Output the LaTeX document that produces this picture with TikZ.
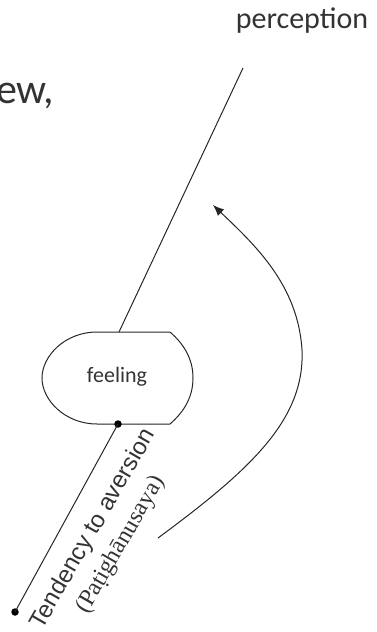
\documentclass[tikz,border=0pt]{standalone}
\usepackage{fontspec}
\setmainfont{Carlito}
\newfontfamily\arialfont{Liberation Sans}
\newfontfamily\timesfont{Liberation Serif}
\usetikzlibrary{arrows.meta}

\begin{document}
\begin{tikzpicture}[x=1pt, y=-1pt,
    line/.style={black!85, line width=1pt},
    dot/.style={circle, fill=black, inner sep=0pt, minimum size=7.5pt},
    word/.style={text=black!80, inner sep=0pt}]
    \useasboundingbox (0,0) rectangle (376,632);

    % cut-off slide text
    \node[word, anchor=base west, font=\fontsize{42}{50}\selectfont] (cut) at (-4,103) {ew,};

    \node[word, font=\fontsize{30}{36}\selectfont] (perc) at (302,21) {perception};
    \coordinate (ptop) at (243,68);
    \coordinate (ftop) at (119,332);
    \draw[line] (ptop) -- (ftop);

    % feeling: rounded left side, arc on the right
    \draw[line] (97,332) -- (170,332)
        .. controls (185,345) and (193,360) .. (193,378)
        .. controls (193,396) and (185,411) .. (170,424)
        -- (97,424)
        .. controls (65,424) and (42,400) .. (42,378)
        .. controls (42,356) and (65,332) .. (97,332) -- cycle;
    \node[word, font=\fontsize{22}{26}\selectfont] (feel) at (117,377) {feeling};

    \node[dot] (fdot) at (118,424) {};
    \node[dot] (bdot) at (15,612) {};
    \draw[line] (fdot.center) -- (bdot.center);

    \node[word, rotate=60, align=center, font=\fontsize{24}{31}\selectfont] (tend) at (107,537)
        {{\arialfont Tendency to aversion}\\{\timesfont (Paṭighānusaya)}};

    % curved arrow back up
    \coordinate (astart) at (158,538);
    \coordinate (aend) at (213,205);
    \draw[line, -{Latex[length=11pt, width=9pt]}] (astart)
        .. controls (250,470) and (305,420) .. (302,350)
        .. controls (298,285) and (255,245) .. (aend);
\end{tikzpicture}
\end{document}
